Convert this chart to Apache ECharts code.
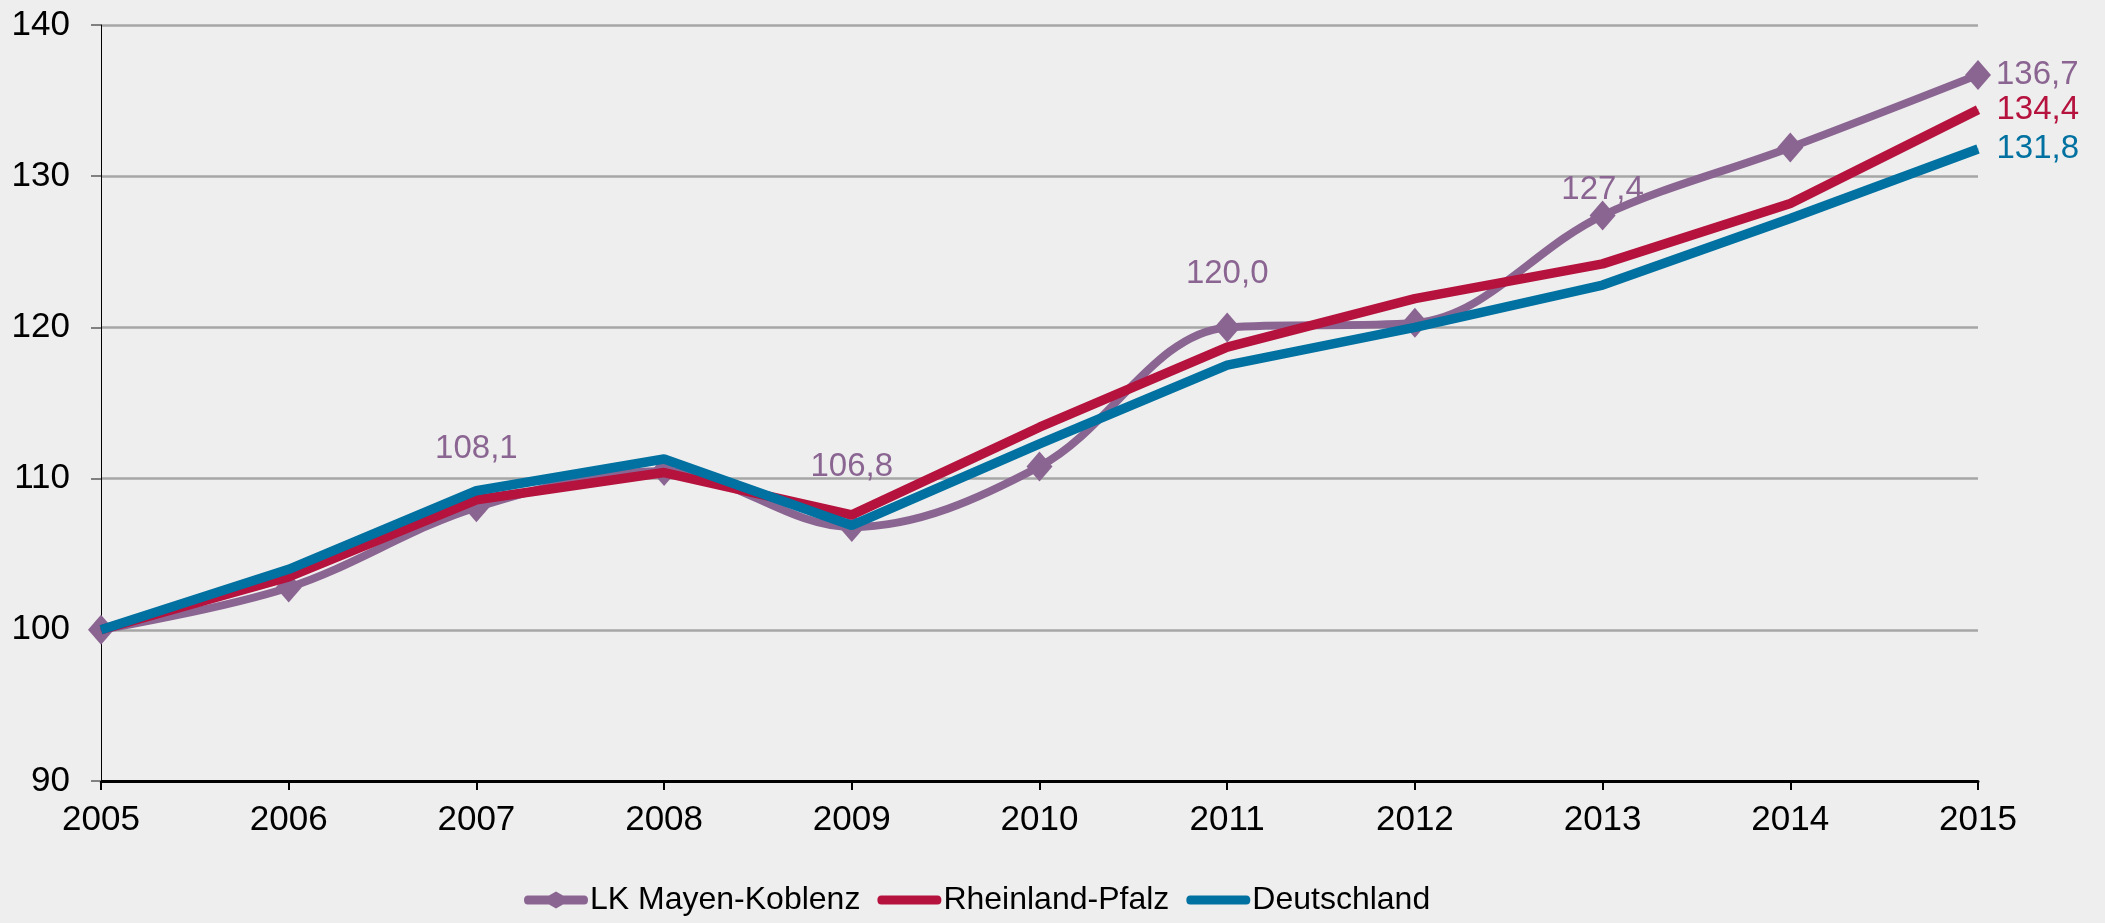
<!DOCTYPE html>
<html>
<head>
<meta charset="utf-8">
<script src="https://cdn.jsdelivr.net/npm/echarts@6/dist/echarts.min.js"></script>
<style>
  html, body { margin: 0; padding: 0; background: #eeeeee; }
  #chart { width: 2105px; height: 923px; }
</style>
</head>
<body>
<div id="chart"></div>
<script>
const years = ["2005", "2006", "2007", "2008", "2009", "2010", "2011", "2012", "2013", "2014", "2015"];
const mayenKoblenz = [100, 102.8, 108.1, 110.5, 106.8, 110.8, 120.0, 120.3, 127.4, 131.9, 136.7];
const rheinlandPfalz = [100, 103.5, 108.6, 110.4, 107.6, 113.4, 118.7, 121.9, 124.2, 128.2, 134.4];
const deutschland = [100, 104.0, 109.2, 111.3, 106.9, 112.3, 117.5, 120.0, 122.8, 127.2, 131.8];
// points of the district line that get a label above them, and the gap in px
const labelDistance = { 2: 27, 4: 29, 6: 22, 8: -6 };

const purple = "#8b6592";
const red = "#b5123e";
const blue = "#0071a0";
const font = "Liberation Sans, Arial, sans-serif";

const fmt = (v) => v.toFixed(1).replace(".", ",");

const lastLabel = (color, dist) => ({
  show: true,
  position: "right",
  distance: dist,
  color: color,
  fontSize: 33,
  fontFamily: font,
  formatter: (p) => fmt(p.value),
});

const mkData = mayenKoblenz.map((v, i) => {
  if (i === mayenKoblenz.length - 1) {
    return { value: v, label: lastLabel(purple, 5) };
  }
  if (labelDistance[i] !== undefined) {
    return {
      value: v,
      label: {
        show: true,
        position: "top",
        distance: labelDistance[i],
        color: purple,
        fontSize: 33,
        fontFamily: font,
        formatter: (p) => fmt(p.value),
      },
    };
  }
  return v;
});

const withLast = (arr, color) =>
  arr.map((v, i) => (i === arr.length - 1 ? { value: v, label: lastLabel(color, 18) } : v));

// legend icons: thick rounded line, the district one with a diamond in the middle
const iconDiamondLine = "path://M4,4 L25,4 L32,0 L39,4 L60,4 Q64,4 64,8.5 Q64,13 60,13 L39,13 L32,17 L25,13 L4,13 Q0,13 0,8.5 Q0,4 4,4 Z";
const iconLine = "path://M4,0 L60,0 Q64,0 64,4.5 Q64,9 60,9 L4,9 Q0,9 0,4.5 Q0,0 4,0 Z";

const chart = echarts.init(document.getElementById("chart"));

const option = {
  backgroundColor: "#eeeeee",
  animation: false,
  grid: {
    left: 101,
    right: 127,
    top: 25,
    bottom: 142,
  },
  legend: {
    top: 879,
    left: 519,
    itemWidth: 64,
    itemHeight: 17,
    itemGap: 17,
    textStyle: {
      fontSize: 32,
      fontFamily: font,
      color: "#000",
      padding: [0, 0, 0, -3],
    },
    data: [
      { name: "LK Mayen-Koblenz", icon: iconDiamondLine },
      { name: "Rheinland-Pfalz", icon: iconLine },
      { name: "Deutschland", icon: iconLine },
    ],
  },
  xAxis: {
    type: "category",
    data: years,
    boundaryGap: false,
    axisLine: { lineStyle: { color: "#000", width: 3 } },
    axisTick: { show: true, length: 9, lineStyle: { color: "#000", width: 2 } },
    axisLabel: { color: "#000", fontSize: 35, fontFamily: font, margin: 22 },
  },
  yAxis: {
    type: "value",
    min: 90,
    max: 140,
    interval: 10,
    axisLine: { show: true, lineStyle: { color: "#000", width: 1 } },
    axisTick: { show: true, length: 10, lineStyle: { color: "#808080", width: 2 } },
    axisLabel: { color: "#000", fontSize: 35, fontFamily: font, margin: 31 },
    splitLine: { lineStyle: { color: "#a6a6a6", width: 2.7 } },
  },
  series: [
    {
      name: "LK Mayen-Koblenz",
      type: "line",
      data: mkData,
      smooth: 0.35,
      symbol: "diamond",
      symbolSize: [26, 30],
      color: purple,
      lineStyle: { width: 8, color: purple },
      itemStyle: { color: purple },
      z: 2,
    },
    {
      name: "Rheinland-Pfalz",
      type: "line",
      data: withLast(rheinlandPfalz, red),
      symbol: "circle",
      symbolSize: 1,
      color: red,
      lineStyle: { width: 9.5, color: red },
      itemStyle: { color: red },
      z: 3,
    },
    {
      name: "Deutschland",
      type: "line",
      data: withLast(deutschland, blue),
      symbol: "circle",
      symbolSize: 1,
      color: blue,
      lineStyle: { width: 9.5, color: blue },
      itemStyle: { color: blue },
      z: 4,
    },
  ],
};

chart.setOption(option);
</script>
</body>
</html>
